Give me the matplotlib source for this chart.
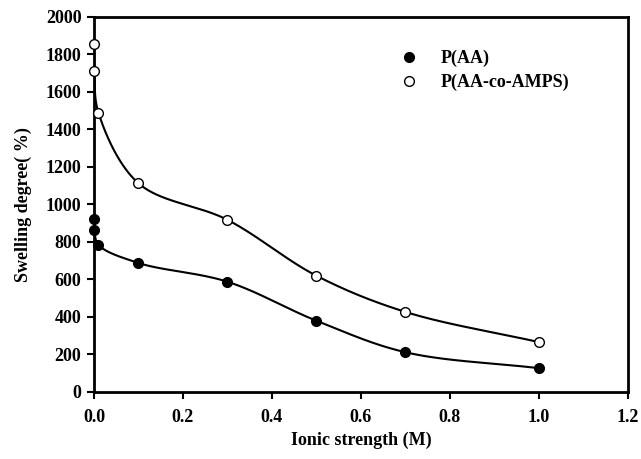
import numpy as np
import matplotlib
matplotlib.use("Agg")
import matplotlib.pyplot as plt
from matplotlib.lines import Line2D

plt.rcParams['font.family'] = ['Liberation Serif', 'DejaVu Serif']
plt.rcParams['font.weight'] = 'bold'

# donnees
ionic = [0.0, 0.001, 0.01, 0.1, 0.3, 0.5, 0.7, 1.0]
swell_aa = [920, 865, 785, 688, 588, 380, 212, 127]
swell_amps = [1855, 1710, 1490, 1113, 918, 620, 427, 266]

# echelle approx. en pixels pour que le lissage ressemble au trace d'origine
SX, SY = 534 / 1.2, 374 / 2000


def catmull_rom(x, y, n=60, alpha=0.5):
    # courbe de Catmull-Rom centripete (parametrique), calculee en "pixels"
    P = np.column_stack([np.asarray(x, float) * SX, np.asarray(y, float) * SY])
    P = np.vstack([2 * P[0] - P[1], P, 2 * P[-1] - P[-2]])
    out = []
    for i in range(1, len(P) - 2):
        p0, p1, p2, p3 = P[i - 1], P[i], P[i + 1], P[i + 2]
        t0 = 0.0
        t1 = t0 + np.linalg.norm(p1 - p0) ** alpha
        t2 = t1 + np.linalg.norm(p2 - p1) ** alpha
        t3 = t2 + np.linalg.norm(p3 - p2) ** alpha
        t = np.linspace(t1, t2, n)[:, None]
        a1 = (t1 - t) / (t1 - t0) * p0 + (t - t0) / (t1 - t0) * p1
        a2 = (t2 - t) / (t2 - t1) * p1 + (t - t1) / (t2 - t1) * p2
        a3 = (t3 - t) / (t3 - t2) * p2 + (t - t2) / (t3 - t2) * p3
        b1 = (t2 - t) / (t2 - t0) * a1 + (t - t0) / (t2 - t0) * a2
        b2 = (t3 - t) / (t3 - t1) * a2 + (t - t1) / (t3 - t1) * a3
        c = (t2 - t) / (t2 - t1) * b1 + (t - t1) / (t2 - t1) * b2
        out.append(c)
    c = np.vstack(out)
    return c[:, 0] / SX, c[:, 1] / SY


fig = plt.figure(figsize=(6.41, 4.59), dpi=100)
ax = fig.add_axes([0.1466, 0.146, 0.833, 0.817])

cx, cy = catmull_rom(ionic, swell_aa)
ax.plot(cx, cy, color='black', lw=1.5, zorder=2)
cx, cy = catmull_rom(ionic, swell_amps)
ax.plot(cx, cy, color='black', lw=1.5, zorder=2)

ax.plot(ionic, swell_aa, 'o', color='black', ms=7, mec='black', mew=1, zorder=3, clip_on=False)
ax.plot(ionic, swell_amps, 'o', mfc='white', mec='black', ms=7, mew=1, zorder=3, clip_on=False)

ax.set_xlim(0, 1.2)
ax.set_ylim(0, 2000)
ax.set_xticks(np.arange(0, 1.21, 0.2))
ax.set_yticks(np.arange(0, 2001, 200))
ax.set_xticklabels(['%.1f' % v for v in np.arange(0, 1.21, 0.2)])

for s in ax.spines.values():
    s.set_linewidth(2)
ax.tick_params(direction='out', length=5, width=1.5, labelsize=13, pad=7)
ax.tick_params(axis='y', pad=4)

ax.set_xlabel('Ionic strength (M)', fontsize=13, fontweight='bold', labelpad=4)
ax.set_ylabel('Swelling degree( %)', fontsize=13, fontweight='bold', labelpad=10)

handles = [
    Line2D([], [], ls='none', marker='o', color='black', ms=7),
    Line2D([], [], ls='none', marker='o', mfc='white', mec='black', ms=7),
]
ax.legend(handles, ['P(AA)', 'P(AA-co-AMPS)'], loc='upper left', bbox_to_anchor=(0.525, 0.955),
          frameon=False, fontsize=13, handletextpad=0.8, labelspacing=0.35)

fig.savefig('out.png', dpi=100)
